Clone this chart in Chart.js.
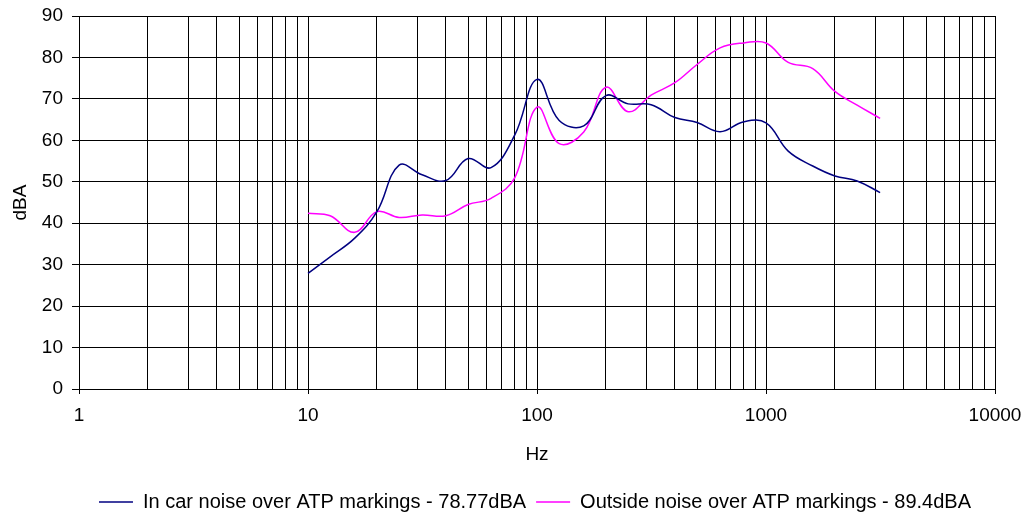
<!DOCTYPE html>
<html><head><meta charset="utf-8">
<script src="https://cdn.jsdelivr.net/npm/chart.js@4.4.1/dist/chart.umd.min.js"></script>
<style>html,body{margin:0;padding:0;background:#fff}</style>
</head><body>
<canvas id="c" width="1026" height="516"></canvas>
<script>
const freqs   = [10, 12.5, 16, 20, 25, 31.5, 40, 50, 63, 80, 100, 125, 160, 200, 250, 315, 400, 500, 630, 800, 1000, 1250, 1600, 2000, 2500, 3150];
const inCar   = [27.9, 31.9, 36.4, 42.8, 54.0, 51.7, 50.3, 55.6, 53.4, 61.3, 74.7, 64.8, 63.5, 70.8, 68.8, 68.6, 65.5, 64.3, 62.1, 64.5, 64.2, 57.4, 53.8, 51.4, 50.2, 47.4];
const outside = [42.4, 41.8, 37.8, 42.8, 41.4, 42.0, 41.8, 44.5, 46.0, 51.0, 68.0, 59.2, 62.0, 72.8, 66.9, 70.9, 73.9, 78.3, 82.3, 83.5, 83.5, 78.8, 77.3, 71.8, 68.5, 65.3];
const seriesNames = ['In car noise over ATP markings - 78.77dBA', 'Outside noise over ATP markings - 89.4dBA'];
const xMajorTicks = [1, 10, 100, 1000, 10000];
const xMinorMultipliers = [2, 3, 4, 5, 6, 7, 8, 9];
const yTicks = [0, 10, 20, 30, 40, 50, 60, 70, 80, 90];

const FONT = 'Liberation Sans, Arial, sans-serif';
const xGridValues = [];
xMajorTicks.forEach((m, i) => {
  xGridValues.push(m);
  if (i < xMajorTicks.length - 1) xMinorMultipliers.forEach(k => xGridValues.push(m * k));
});

const legendShift = {
  id: 'legendShift',
  afterLayout(chart) {
    const lg = chart.legend;
    if (lg) { lg.left += 22; lg.right += 22; lg.top += 6; lg.bottom += 6; }
  }
};

new Chart(document.getElementById('c'), {
  type: 'line',
  data: {
    datasets: [
      { label: seriesNames[0], data: freqs.map((f, i) => ({x: f, y: inCar[i]})),
        borderColor: '#000080', backgroundColor: '#000080', borderWidth: 1.5, pointRadius: 0, tension: 0.4, fill: false },
      { label: seriesNames[1], data: freqs.map((f, i) => ({x: f, y: outside[i]})),
        borderColor: '#FF00FF', backgroundColor: '#FF00FF', borderWidth: 1.5, pointRadius: 0, tension: 0.4, fill: false }
    ]
  },
  options: {
    responsive: false,
    animation: false,
    devicePixelRatio: 1,
    layout: { padding: { top: 0, right: 0, bottom: 0, left: 0 } },
    plugins: {
      legend: {
        position: 'bottom',
        labels: { usePointStyle: true, pointStyle: 'line', pointStyleWidth: 34, boxHeight: 2,
                  padding: 10, color: '#000', font: { family: FONT, size: 20 } }
      },
      tooltip: { enabled: false }
    },
    scales: {
      x: {
        type: 'logarithmic', min: 1, max: 10000,
        afterBuildTicks: s => { s.ticks = xGridValues.map(v => ({ value: v, major: xMajorTicks.includes(v) })); },
        afterFit: s => { s.height = 87; s.paddingRight = 31; },
        ticks: { autoSkip: false, maxRotation: 0, padding: 10, color: '#000', font: { family: FONT, size: 19 },
                 callback: v => xMajorTicks.includes(v) ? String(v) : '' },
        grid: { color: '#000', lineWidth: 1, tickLength: 5,
                tickColor: ctx => (ctx.tick && xMajorTicks.includes(ctx.tick.value)) ? '#000' : 'rgba(0,0,0,0)' },
        border: { color: '#000', width: 1 },
        title: { display: true, text: 'Hz', color: '#000', font: { family: FONT, size: 19 }, padding: { top: 4, bottom: 10 } }
      },
      y: {
        min: 0, max: 90,
        afterBuildTicks: s => { s.ticks = yTicks.map(v => ({ value: v })); },
        afterFit: s => { s.width = 79; s.paddingTop = 16; },
        ticks: { padding: 9, color: '#000', font: { family: FONT, size: 19 } },
        grid: { color: '#000', lineWidth: 1, tickLength: 7, tickColor: '#000' },
        border: { color: '#000', width: 1 },
        title: { display: true, text: 'dBA', color: '#000', font: { family: FONT, size: 19 }, padding: { top: 9, bottom: 4 } }
      }
    }
  },
  plugins: [legendShift]
});
</script>
</body></html>
